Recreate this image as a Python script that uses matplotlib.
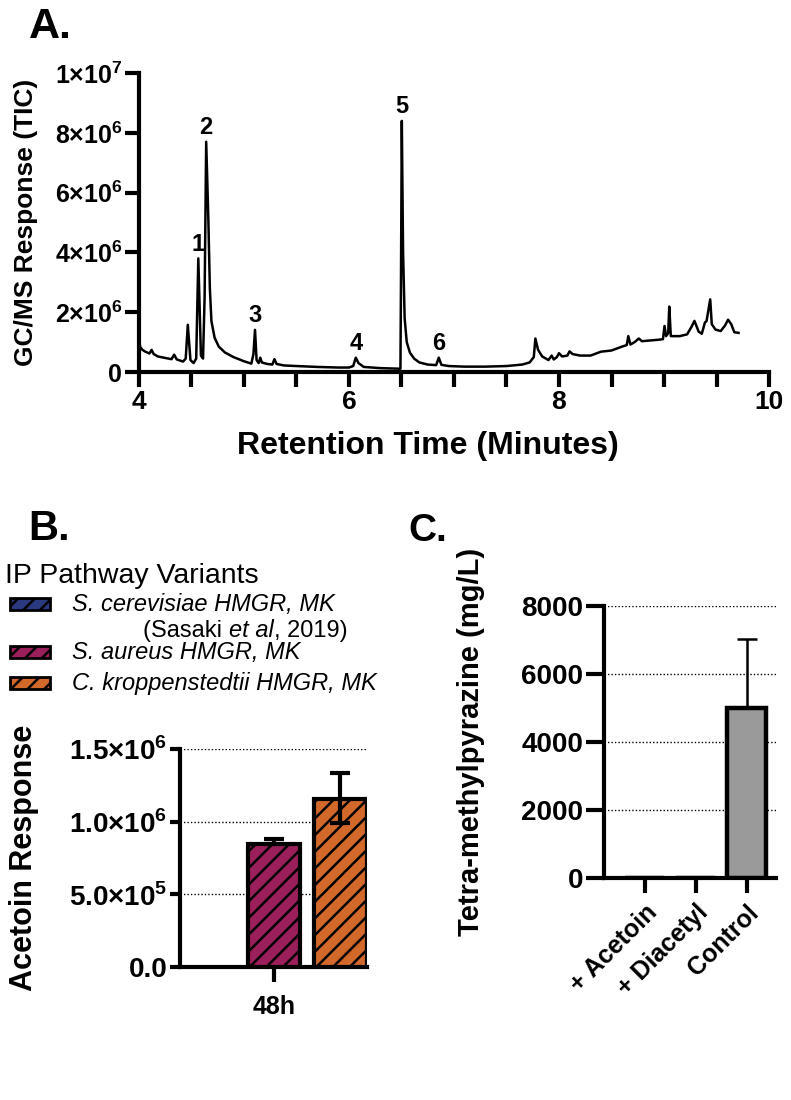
import numpy as np
import matplotlib
matplotlib.use('Agg')
import matplotlib.pyplot as plt
from matplotlib.patches import Rectangle

plt.rcParams['font.family'] = ['Liberation Sans', 'DejaVu Sans']
plt.rcParams['mathtext.fontset'] = 'custom'
plt.rcParams['mathtext.rm'] = 'Liberation Sans:bold'
plt.rcParams['mathtext.bf'] = 'Liberation Sans:bold'
plt.rcParams['hatch.linewidth'] = 1.8
plt.rcParams['axes.linewidth'] = 3

# ---- panel A: GC/MS chromatogram (TIC, in units of 1e6) ----
rt = [4.0, 4.005, 4.01, 4.03, 4.06, 4.1, 4.12, 4.14, 4.18, 4.25, 4.31, 4.335,
      4.36, 4.42, 4.445, 4.465, 4.49, 4.52, 4.545, 4.565, 4.59, 4.61, 4.625,
      4.64, 4.66, 4.675, 4.69, 4.72, 4.76, 4.82, 4.9, 5.0, 5.07, 5.09, 5.105,
      5.12, 5.14, 5.155, 5.17, 5.22, 5.27, 5.29, 5.31, 5.38, 5.5, 5.7, 5.9,
      6.0, 6.04, 6.065, 6.09, 6.14, 6.3, 6.49, 6.495, 6.503, 6.515, 6.53,
      6.55, 6.58, 6.62, 6.67, 6.75, 6.83, 6.855, 6.88, 6.95, 7.1, 7.3, 7.5,
      7.65, 7.72, 7.76, 7.775, 7.8, 7.84, 7.9, 7.93, 7.95, 7.98, 8.0, 8.03,
      8.08, 8.1, 8.13, 8.2, 8.3, 8.4, 8.5, 8.6, 8.645, 8.66, 8.68, 8.72, 8.76,
      8.79, 8.85, 8.95, 8.99, 9.005, 9.02, 9.04, 9.05, 9.065, 9.15, 9.22,
      9.26, 9.29, 9.33, 9.36, 9.39, 9.405, 9.44, 9.455, 9.49, 9.54, 9.58,
      9.61, 9.64, 9.67, 9.71]
tic = [1.35, 1.0, 0.85, 0.75, 0.68, 0.62, 0.74, 0.6, 0.52, 0.47, 0.43, 0.58,
       0.42, 0.35, 0.45, 1.58, 0.4, 0.3, 0.45, 3.8, 0.55, 0.45, 2.5,
       7.7, 5.2, 2.8, 1.7, 1.15, 0.85, 0.65, 0.5, 0.36, 0.28, 0.6, 1.41,
       0.4, 0.3, 0.48, 0.32, 0.27, 0.25, 0.43, 0.27, 0.22, 0.2, 0.17, 0.15,
       0.15, 0.2, 0.48, 0.3, 0.17, 0.13, 0.11, 3.0, 8.4, 4.0, 1.8,
       1.0, 0.65, 0.45, 0.32, 0.25, 0.23, 0.48, 0.24, 0.2, 0.18, 0.18, 0.2,
       0.25, 0.32, 0.5, 1.12, 0.75, 0.52, 0.4, 0.55, 0.42, 0.5, 0.63, 0.52,
       0.55, 0.69, 0.6, 0.55, 0.55, 0.68, 0.72, 0.85, 0.9, 1.2, 0.92, 1.0, 1.12,
       1.03, 1.05, 1.08, 1.1, 1.54, 1.2, 1.3, 2.19, 1.2, 1.2, 1.26,
       1.5, 1.71, 1.35, 1.28, 1.66, 1.7, 2.43, 1.6, 1.42, 1.37, 1.55,
       1.75, 1.6, 1.33, 1.31]
peak_ids = ['1', '2', '3', '4', '5', '6']
peak_rt = [4.565, 4.64, 5.105, 6.065, 6.503, 6.855]
peak_tic = [3.8, 7.7, 1.41, 0.48, 8.4, 0.48]

# ---- panel B: acetoin response at 48h ----
variants = ['S. cerevisiae HMGR, MK', 'S. aureus HMGR, MK',
            'C. kroppenstedtii HMGR, MK']
variant_colors = ['#2b3a80', '#9b1f5a', '#d2692a']
acetoin_mean = [np.nan, 0.845e6, 1.16e6]
acetoin_err_lo = [np.nan, 0.0, 0.17e6]
acetoin_err_hi = [np.nan, 0.035e6, 0.175e6]

# ---- panel C: tetramethylpyrazine titer ----
treatments = ['+ Acetoin', '+ Diacetyl', 'Control']
tmp_mean = [0, 0, 5000]
tmp_err = [0, 0, 2030]

fig = plt.figure(figsize=(7.91, 11), dpi=100)

# ================= A =================
axA = fig.add_axes([0.1757, 0.6618, 0.7965, 0.2718])
axA.plot(rt, np.array(tic) * 1e6, color='black', lw=1.8)
for pid, x, y in zip(peak_ids, peak_rt, peak_tic):
    axA.annotate(pid, (x, y * 1e6), xytext=(0, 2), textcoords='offset points',
                 ha='center', va='bottom', fontsize=17, fontweight='bold')
axA.set_xlim(4, 10)
axA.set_ylim(0, 1e7)
xt = np.arange(4, 10.01, 0.5)
axA.set_xticks(xt)
axA.set_xticklabels([f'{v:g}' if v % 2 == 0 else '' for v in xt])
yt = [0, 2e6, 4e6, 6e6, 8e6, 1e7]
axA.set_yticks(yt)
axA.set_yticklabels(['0', '2×10$^{6}$', '4×10$^{6}$', '6×10$^{6}$',
                     '8×10$^{6}$', '1×10$^{7}$'])
axA.tick_params(axis='x', length=11, width=3, labelsize=19, pad=2)
axA.tick_params(axis='y', length=10, width=3, labelsize=18, pad=2)
for lab in axA.get_xticklabels() + axA.get_yticklabels():
    lab.set_fontweight('bold')
axA.spines[['top', 'right']].set_visible(False)
axA.set_xlabel('Retention Time (Minutes)', fontsize=23, fontweight='bold',
               labelpad=12)
axA.xaxis.label.set_x(0.458)
axA.set_ylabel('GC/MS Response (TIC)', fontsize=19, fontweight='bold',
               labelpad=12)
fig.text(0.036, 0.9655, 'A.', fontsize=31, fontweight='bold', va='baseline')

# ================= B =================
axB = fig.add_axes([0.2276, 0.1209, 0.2364, 0.198])
xb = [-1, 0, 1]
axB.bar(xb, acetoin_mean, width=0.79, color=variant_colors,
        edgecolor='black', linewidth=3, hatch='//', zorder=3)
axB.errorbar(xb, acetoin_mean, yerr=[acetoin_err_lo, acetoin_err_hi],
             fmt='none', ecolor='black', elinewidth=3, capsize=7.5,
             capthick=3, zorder=4)
axB.set_xlim(-1.41, 1.40)
axB.set_ylim(0, 1.5e6)
axB.set_yticks([0, 5e5, 1e6, 1.5e6])
axB.set_yticklabels(['0.0', '5.0×10$^{5}$', '1.0×10$^{6}$', '1.5×10$^{6}$'])
axB.set_xticks([0])
axB.set_xticklabels(['48h'])
axB.yaxis.grid(True, linestyle=(0, (1, 1.5)), color='black', lw=1, zorder=0)
axB.tick_params(axis='x', length=11, width=3, labelsize=18, pad=9)
axB.tick_params(axis='y', length=7, width=3, labelsize=20, pad=2)
for lab in axB.get_xticklabels() + axB.get_yticklabels():
    lab.set_fontweight('bold')
axB.spines[['top', 'right']].set_visible(False)
axB.set_ylabel('Acetoin Response', fontsize=22, fontweight='bold',
               labelpad=22)
fig.text(0.036, 0.509, 'B.', fontsize=30, fontweight='bold', va='baseline')

# legend drawn by hand so the citation can sit on a second line
fig.text(0.006, 0.470, 'IP Pathway Variants', fontsize=20.5, va='baseline')
leg_y = [0.451, 0.407, 0.379]
for name, col, yy in zip(variants, variant_colors, leg_y):
    fig.add_artist(Rectangle((0.013, yy - 0.0055), 0.05, 0.011,
                             transform=fig.transFigure, facecolor=col,
                             edgecolor='black', lw=2, hatch='//'))
    fig.text(0.091, yy - 0.0065, name, fontsize=17, style='italic',
             va='baseline')
t1 = fig.text(0.181, 0.421, '(Sasaki ', fontsize=17, va='baseline')
t2 = axB.annotate('et al', xy=(1, 0), xycoords=t1, fontsize=17,
                  style='italic', va='bottom', ha='left',
                  annotation_clip=False)
axB.annotate(', 2019)', xy=(1, 0), xycoords=t2, fontsize=17, va='bottom',
             ha='left', annotation_clip=False)

# ================= C =================
axC = fig.add_axes([0.7636, 0.2018, 0.2174, 0.2473])
xc = np.arange(len(treatments))
axC.bar(xc, tmp_mean, width=0.765, color='#9a9a9a', edgecolor='black',
        linewidth=3.2, zorder=3)
has = [i for i, v in enumerate(tmp_mean) if v > 0]
axC.errorbar([xc[i] for i in has], [tmp_mean[i] for i in has],
             yerr=[[0 for i in has], [tmp_err[i] for i in has]],
             fmt='none', ecolor='black', elinewidth=1.8, capsize=7,
             capthick=1.8, zorder=2)
axC.set_xlim(-0.8, 2.57)
axC.set_ylim(0, 8000)
axC.set_yticks([0, 2000, 4000, 6000, 8000])
axC.set_xticks(xc)
axC.set_xticklabels(treatments, rotation=45, ha='right',
                    rotation_mode='anchor')
axC.yaxis.grid(True, linestyle=(0, (1, 1.5)), color='black', lw=1, zorder=0)
axC.tick_params(axis='x', length=11, width=3, labelsize=18, pad=5)
axC.tick_params(axis='y', length=13, width=3, labelsize=20, pad=2)
for lab in axC.get_xticklabels() + axC.get_yticklabels():
    lab.set_fontweight('bold')
axC.spines[['top', 'right']].set_visible(False)
axC.set_ylabel('Tetra-methylpyrazine (mg/L)', fontsize=21, fontweight='bold',
               labelpad=26)
fig.text(0.516, 0.508, 'C.', fontsize=28, fontweight='bold', va='baseline')

fig.savefig('out.png', dpi=100)
